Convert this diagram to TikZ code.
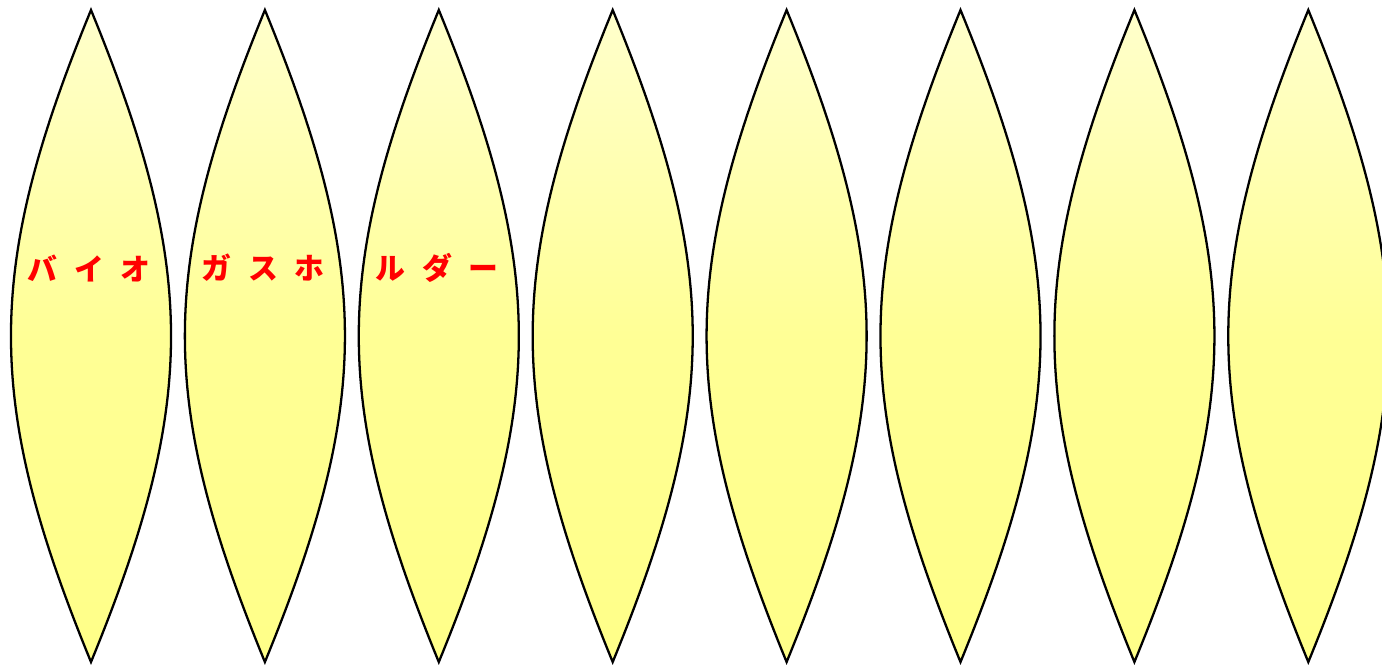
\documentclass[tikz,border=0pt]{standalone}
\usepackage{fontspec}
\newfontfamily\jpfont{Noto Sans CJK JP}
\usepackage{tikz}
\definecolor{gorelight}{RGB}{255,255,204}
\definecolor{goredark}{RGB}{255,255,136}
\definecolor{lblred}{RGB}{255,0,0}
\newcommand{\kgap}{\hspace{0.57em}}

\begin{document}
\begin{tikzpicture}[
  x=0.02cm, y=-0.02cm,
  gore/.style={draw=black, line width=1.3pt, line join=miter, top color=gorelight, bottom color=goredark, middle color=goredark!80!gorelight},
  lbl/.style={font=\jpfont\bfseries\fontsize{17}{17}\selectfont, text=lblred, inner sep=0pt}
]
\useasboundingbox (0,0) rectangle (1382,664);
\clip (0,0) rectangle (1382,664);

% eight gores side by side
\foreach \i in {0,...,7}{
  \coordinate (g\i-top) at ({91+173.9*\i},10);
  \coordinate (g\i-bot) at ({91+173.9*\i},662);
  \path[gore] (g\i-top) .. controls +(-106.7,260) and +(-106.7,-260) .. (g\i-bot)
                        .. controls +(106.7,-260) and +(106.7,260) .. (g\i-top) -- cycle;
}

% title split over the first three gores
\node[lbl] (lbl-a) at (89,268)  {バ\kgap イ\kgap オ};
\node[lbl] (lbl-b) at (263,268) {ガ\kgap ス\kgap ホ};
\node[lbl] (lbl-c) at (437,268) {ル\kgap ダ\kgap ー};

\end{tikzpicture}
\end{document}
